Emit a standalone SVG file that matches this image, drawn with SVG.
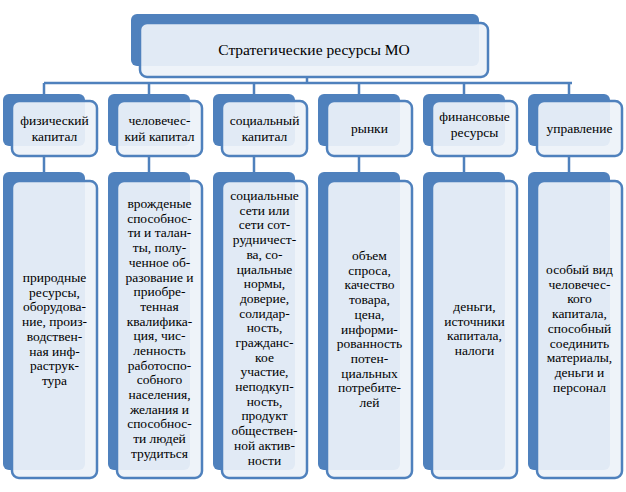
<svg xmlns="http://www.w3.org/2000/svg" width="626" height="492" viewBox="0 0 626 492">
<style>
.b{fill:#4f81bd}
.f{fill:#edf2f9;fill-opacity:0.93;stroke:#4f81bd;stroke-width:2.5}
.t{font-family:"Liberation Serif",serif;font-size:13.5px;fill:#000;text-anchor:middle}
.c{stroke:#4f81bd;stroke-width:2.5;fill:none}
</style>
<rect width="626" height="492" fill="#fff"/>
<g id="connectors">
<path class="c" d="M307 77V83M44 83H572M44 83V94M149 83V94M254 83V94M359 83V94M464 83V94M569 83V94"/>
<path class="c" d="M44 156V172M149 156V172M254 156V172M359 156V172M464 156V172M569 156V172"/>
</g>
<g id="root">
<rect class="b" x="131" y="14" width="348" height="52" rx="6"/>
<rect class="f" x="140" y="23" width="348" height="54" rx="7"/>
<text class="t" x="314" y="55" style="font-size:15.5px">Стратегические ресурсы МО</text>
</g>
<g id="h1"><rect class="b" x="3" y="94" width="82" height="52" rx="6"/><rect class="f" x="12" y="101" width="85" height="55" rx="7"/>
<text class="t" x="54.5" y="125">физический<tspan x="54.5" dy="16">капитал</tspan></text></g>
<g id="h2"><rect class="b" x="108" y="94" width="82" height="52" rx="6"/><rect class="f" x="117" y="101" width="85" height="55" rx="7"/>
<text class="t" x="159.5" y="125">человечес-<tspan x="159.5" dy="16">кий капитал</tspan></text></g>
<g id="h3"><rect class="b" x="213" y="94" width="82" height="52" rx="6"/><rect class="f" x="222" y="101" width="85" height="55" rx="7"/>
<text class="t" x="264.5" y="125">социальный<tspan x="264.5" dy="16">капитал</tspan></text></g>
<g id="h4"><rect class="b" x="318" y="94" width="82" height="52" rx="6"/><rect class="f" x="327" y="101" width="85" height="55" rx="7"/>
<text class="t" x="369.5" y="133">рынки</text></g>
<g id="h5"><rect class="b" x="423" y="94" width="82" height="52" rx="6"/><rect class="f" x="432" y="101" width="85" height="55" rx="7"/>
<text class="t" x="474.5" y="121">финансовые<tspan x="474.5" dy="16">ресурсы</tspan></text></g>
<g id="h6"><rect class="b" x="528" y="94" width="82" height="52" rx="6"/><rect class="f" x="537" y="101" width="85" height="55" rx="7"/>
<text class="t" x="579.5" y="133">управление</text></g>

<g id="b1"><rect class="b" x="3" y="172" width="82" height="298" rx="6"/><rect class="f" x="12" y="181" width="85" height="297" rx="7"/>
<text class="t" x="54.5" y="282">природные<tspan x="54.5" dy="14.7">ресурсы,</tspan><tspan x="54.5" dy="14.7">оборудова-</tspan><tspan x="54.5" dy="14.7">ние, произ-</tspan><tspan x="54.5" dy="14.7">водствен-</tspan><tspan x="54.5" dy="14.7">ная инф-</tspan><tspan x="54.5" dy="14.7">раструк-</tspan><tspan x="54.5" dy="14.7">тура</tspan></text></g>
<g id="b2"><rect class="b" x="108" y="172" width="82" height="298" rx="6"/><rect class="f" x="117" y="181" width="85" height="297" rx="7"/>
<text class="t" x="159.5" y="208">врожденые<tspan x="159.5" dy="14.7">способнос-</tspan><tspan x="159.5" dy="14.7">ти и талан-</tspan><tspan x="159.5" dy="14.7">ты, полу-</tspan><tspan x="159.5" dy="14.7">ченное об-</tspan><tspan x="159.5" dy="14.7">разование и</tspan><tspan x="159.5" dy="14.7">приобре-</tspan><tspan x="159.5" dy="14.7">тенная</tspan><tspan x="159.5" dy="14.7">квалифика-</tspan><tspan x="159.5" dy="14.7">ция, чис-</tspan><tspan x="159.5" dy="14.7">ленность</tspan><tspan x="159.5" dy="14.7">работоспо-</tspan><tspan x="159.5" dy="14.7">собного</tspan><tspan x="159.5" dy="14.7">населения,</tspan><tspan x="159.5" dy="14.7">желания и</tspan><tspan x="159.5" dy="14.7">способнос-</tspan><tspan x="159.5" dy="14.7">ти людей</tspan><tspan x="159.5" dy="14.7">трудиться</tspan></text></g>
<g id="b3"><rect class="b" x="213" y="172" width="82" height="298" rx="6"/><rect class="f" x="222" y="181" width="85" height="297" rx="7"/>
<text class="t" x="264.5" y="200">социальные<tspan x="264.5" dy="14.7">сети или</tspan><tspan x="264.5" dy="14.7">сети сот-</tspan><tspan x="264.5" dy="14.7">рудничест-</tspan><tspan x="264.5" dy="14.7">ва, со-</tspan><tspan x="264.5" dy="14.7">циальные</tspan><tspan x="264.5" dy="14.7">нормы,</tspan><tspan x="264.5" dy="14.7">доверие,</tspan><tspan x="264.5" dy="14.7">солидар-</tspan><tspan x="264.5" dy="14.7">ность,</tspan><tspan x="264.5" dy="14.7">гражданс-</tspan><tspan x="264.5" dy="14.7">кое</tspan><tspan x="264.5" dy="14.7">участие,</tspan><tspan x="264.5" dy="14.7">неподкуп-</tspan><tspan x="264.5" dy="14.7">ность,</tspan><tspan x="264.5" dy="14.7">продукт</tspan><tspan x="264.5" dy="14.7">обществен-</tspan><tspan x="264.5" dy="14.7">ной актив-</tspan><tspan x="264.5" dy="14.7">ности</tspan></text></g>
<g id="b4"><rect class="b" x="318" y="172" width="82" height="298" rx="6"/><rect class="f" x="327" y="181" width="85" height="297" rx="7"/>
<text class="t" x="369.5" y="260">объем<tspan x="369.5" dy="14.7">спроса,</tspan><tspan x="369.5" dy="14.7">качество</tspan><tspan x="369.5" dy="14.7">товара,</tspan><tspan x="369.5" dy="14.7">цена,</tspan><tspan x="369.5" dy="14.7">информи-</tspan><tspan x="369.5" dy="14.7">рованность</tspan><tspan x="369.5" dy="14.7">потен-</tspan><tspan x="369.5" dy="14.7">циальных</tspan><tspan x="369.5" dy="14.7">потребите-</tspan><tspan x="369.5" dy="14.7">лей</tspan></text></g>
<g id="b5"><rect class="b" x="423" y="172" width="82" height="298" rx="6"/><rect class="f" x="432" y="181" width="85" height="297" rx="7"/>
<text class="t" x="474.5" y="311">деньги,<tspan x="474.5" dy="14.7">источники</tspan><tspan x="474.5" dy="14.7">капитала,</tspan><tspan x="474.5" dy="14.7">налоги</tspan></text></g>
<g id="b6"><rect class="b" x="528" y="172" width="82" height="298" rx="6"/><rect class="f" x="537" y="181" width="85" height="297" rx="7"/>
<text class="t" x="579.5" y="274">особый вид<tspan x="579.5" dy="14.7">человечес-</tspan><tspan x="579.5" dy="14.7">кого</tspan><tspan x="579.5" dy="14.7">капитала,</tspan><tspan x="579.5" dy="14.7">способный</tspan><tspan x="579.5" dy="14.7">соединить</tspan><tspan x="579.5" dy="14.7">материалы,</tspan><tspan x="579.5" dy="14.7">деньги и</tspan><tspan x="579.5" dy="14.7">персонал</tspan></text></g>
</svg>
